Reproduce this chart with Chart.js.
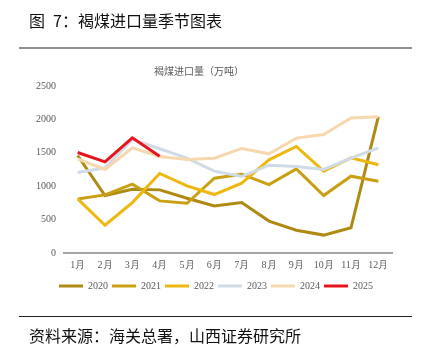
<!DOCTYPE html>
<html>
<head>
<meta charset="utf-8">
<script src="https://cdn.jsdelivr.net/npm/chart.js@4/dist/chart.umd.min.js"></script>
<style>
  html, body { margin: 0; padding: 0; background: #fff; }
  #wrap { position: relative; width: 422px; height: 351px; overflow: hidden; }
  #c { position: absolute; left: 0; top: 0; }
  .t { position: absolute; white-space: nowrap; font-family: "Noto Sans CJK SC", sans-serif; }
  #title { left: 29px; top: 11px; font-size: 16px; line-height: 18px; color: #111; }
  #rule1 { position: absolute; left: 19px; top: 47px; width: 393px; height: 2px; background: #8f8f8f; }
  #ctitle { left: 199px; top: 64px; font-size: 10px; line-height: 13px; color: #595959; transform: translateX(-50%); }
  #rule2 { position: absolute; left: 19px; top: 316px; width: 393px; height: 1px; background: #222; }
  #src { left: 29px; top: 326px; font-size: 16px; line-height: 18px; color: #111; }
</style>
</head>
<body>
<div id="wrap">
  <canvas id="c" width="422" height="351"></canvas>
  <div class="t" id="title">图&ensp;7：褐煤进口量季节图表</div>
  <div id="rule1"></div>
  <div class="t" id="ctitle">褐煤进口量（万吨）</div>
  <div id="rule2"></div>
  <div class="t" id="src">资料来源：海关总署，山西证券研究所</div>
</div>
<script>
const months = ['1月','2月','3月','4月','5月','6月','7月','8月','9月','10月','11月','12月'];
const yTicks = [0, 500, 1000, 1500, 2000, 2500];
const s2020 = [1460, 860, 955, 945, 820, 705, 755, 478, 340, 268, 378, 2040];
const s2021 = [810, 870, 1030, 780, 745, 1120, 1180, 1025, 1260, 860, 1150, 1075];
const s2022 = [810, 415, 755, 1190, 1005, 875, 1045, 1395, 1595, 1225, 1425, 1320];
const s2023 = [1205, 1275, 1700, 1560, 1420, 1225, 1145, 1315, 1295, 1250, 1420, 1575];
const s2024 = [1410, 1250, 1575, 1445, 1400, 1420, 1565, 1485, 1720, 1775, 2020, 2040];
const s2025 = [1505, 1365, 1725, 1450];

const seriesNames = ['2020','2021','2022','2023','2024','2025'];
const seriesData = [s2020, s2021, s2022, s2023, s2024, s2025];
const seriesColors = ['#AE8A12', '#C9A012', '#EFB80E', '#CFDCE8', '#F7D8AE', '#E8141C'];

const datasets = seriesNames.map((n, i) => ({
  label: n,
  data: seriesData[i],
  borderColor: seriesColors[i],
  backgroundColor: seriesColors[i],
  borderWidth: 3,
  pointRadius: 0,
  pointHoverRadius: 0,
  tension: 0,
  fill: false,
  order: 6 - i
}));

const serif = "'Liberation Serif', 'Times New Roman', serif";

const legendShift = {
  id: 'legendShift',
  afterLayout(chart) {
    const l = chart.legend;
    if (l) { l.left += 20; l.right += 20; }
  }
};

new Chart(document.getElementById('c'), {
  type: 'line',
  data: { labels: months, datasets },
  plugins: [legendShift],
  options: {
    responsive: false,
    animation: false,
    layout: { padding: { left: 0, right: 30, top: 86, bottom: 50 } },
    plugins: {
      title: { display: false },
      tooltip: { enabled: false },
      legend: {
        position: 'bottom',
        labels: {
          usePointStyle: true,
          pointStyle: 'line',
          pointStyleWidth: 24,
          boxHeight: 10,
          padding: 4,
          color: '#595959',
          font: { family: serif, size: 10 },
          sort: (a, b) => a.datasetIndex - b.datasetIndex
        }
      }
    },
    scales: {
      x: {
        offset: true,
        grid: { display: false, drawTicks: false },
        border: { display: true, color: '#A6A6A6', width: 2 },
        ticks: { color: '#595959', font: { family: serif, size: 10 }, padding: 6, maxRotation: 0, autoSkip: false },
        afterFit: (s) => { s.height = 24; }
      },
      y: {
        min: 0, max: 2500,
        afterBuildTicks: (s) => { s.ticks = yTicks.map(v => ({ value: v })); },
        grid: { display: false, drawTicks: false },
        border: { display: false },
        ticks: { color: '#595959', font: { family: serif, size: 10 }, padding: 8, callback: (v) => String(v) },
        afterFit: (s) => { s.width = 64; }
      }
    }
  }
});
</script>
</body>
</html>
